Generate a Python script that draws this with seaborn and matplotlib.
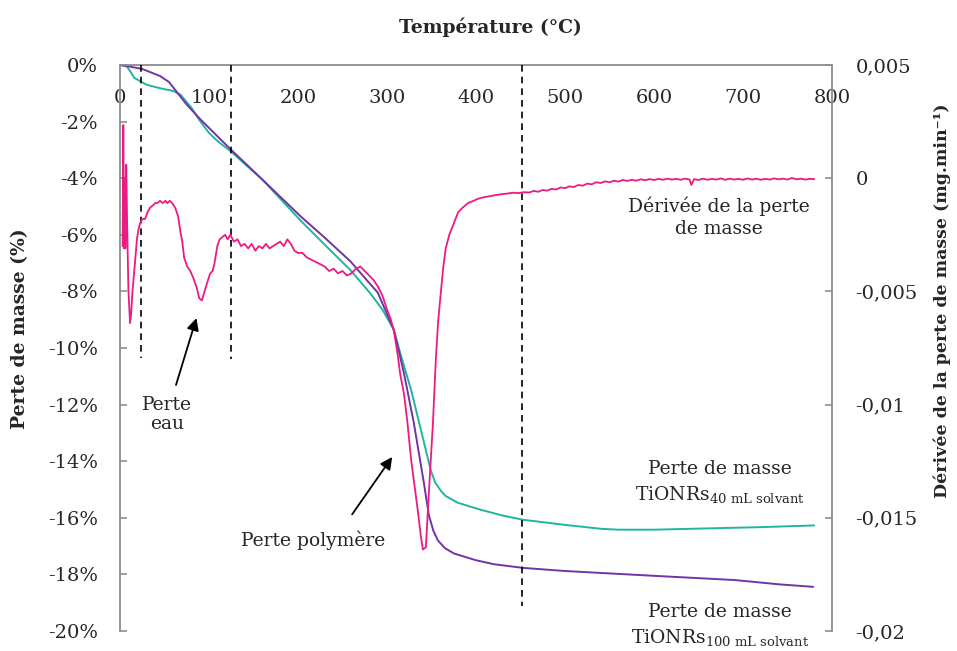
import matplotlib
matplotlib.use("Agg")
import matplotlib.pyplot as plt
import seaborn as sns
import pandas as pd

# ---------------- data ----------------
temp_40 = [0, 5, 8, 12, 16, 22.5, 30, 45, 60, 68, 80, 90, 100, 110, 124, 160, 203, 230, 259, 282,
           295, 307.6, 316, 327, 338, 349, 354, 360.6, 366, 379.7, 405.6, 430, 453, 500, 541, 560,
           600, 653, 720, 780]
loss_40 = [0, -0.03, -0.06, -0.25, -0.45, -0.57, -0.7, -0.82, -0.92, -1.05, -1.5, -1.98, -2.4, -2.7,
           -3.04, -4.05, -5.5, -6.35, -7.25, -8.1, -8.65, -9.35, -10.3, -11.47, -12.88, -14.3,
           -14.75, -15.05, -15.23, -15.47, -15.72, -15.92, -16.07, -16.25, -16.39, -16.42, -16.42,
           -16.38, -16.33, -16.27]

temp_100 = [0, 10, 25, 45, 55, 64, 75, 90, 124, 160, 203, 230, 259, 280, 289.6, 307.6, 318.9,
            330.1, 341.4, 347, 352, 357.2, 365, 375.2, 400, 420, 453, 500, 541, 600, 691, 740, 779]
loss_100 = [0, -0.05, -0.14, -0.39, -0.6, -0.96, -1.4, -1.91, -2.97, -4.05, -5.35, -6.1, -6.94,
            -7.7, -8.04, -9.35, -10.87, -12.64, -14.76, -15.9, -16.45, -16.8, -17.07, -17.26,
            -17.5, -17.64, -17.77, -17.88, -17.95, -18.05, -18.2, -18.35, -18.44]

temp_deriv = (
    [3.0, 3.7, 4.6, 5.4, 6.0, 7.0, 8.0, 9.5, 11.3, 12.5, 14, 16.9, 19, 20.6, 22.5, 25, 28.2]
    + [31, 33.8, 37, 39.4, 42, 45, 48, 51, 53, 56, 58.6, 62, 65.4, 68, 70, 72, 75.5, 79, 82.3]
    + [86, 89, 92, 95, 98, 101.4, 104, 106, 109.3, 112, 115, 118, 121, 124, 128, 132, 136, 140]
    + [144, 148, 152, 156, 160, 164, 168, 172, 176, 180, 184, 188, 192, 196, 200, 205, 210, 215]
    + [220, 225, 230, 235, 240, 245, 250, 255, 260, 265, 270, 275, 280, 285, 290, 295, 300, 304]
    + [308, 312, 315, 319, 323, 327, 331, 335, 338, 340.3, 343.7, 347, 351.5, 354.9, 357.5]
    + [360.6, 363, 366, 370, 375, 380, 385, 391, 397, 403, 409, 415, 420, 428, 435, 442, 448]
    + [453, 460, 465, 470, 475, 480, 485, 490, 495, 500, 505, 510, 515, 520, 525, 530, 535, 540]
    + [545, 550, 555, 560, 565, 570, 575, 580, 585, 590, 595, 600, 605, 610, 615, 620, 625, 630]
    + [635, 640, 642, 645, 650, 655, 660, 665, 670, 675, 680, 685, 690, 695, 700, 705, 710, 715]
    + [720, 725, 730, 735, 740, 745, 750, 755, 760, 765, 770, 775, 780]
)
deriv = (
    [-0.0030, 0.00235, -0.0031, 0.0000, -0.0031, 0.0006, -0.0020, -0.0050, -0.0064, -0.0060,
     -0.0050, -0.0037, -0.0027, -0.0023, -0.0020, -0.0018, -0.0018]
    + [-0.0015, -0.0013, -0.0012, -0.0011, -0.0011, -0.0010, -0.0011, -0.0010, -0.0011, -0.0010,
       -0.0011, -0.0013, -0.0017, -0.0024, -0.0028, -0.0035, -0.0039, -0.0041, -0.0044]
    + [-0.0048, -0.0053, -0.0054, -0.0050, -0.0046, -0.0042, -0.0041, -0.0038, -0.0030, -0.0027,
       -0.0026, -0.0025, -0.0027, -0.0025, -0.0028, -0.0027, -0.0030, -0.0029]
    + [-0.0031, -0.0029, -0.0032, -0.0030, -0.0031, -0.0029, -0.0031, -0.0030, -0.0029, -0.0028,
       -0.0030, -0.0027, -0.0029, -0.0032, -0.0033, -0.0033, -0.0035, -0.0036]
    + [-0.0037, -0.0038, -0.0039, -0.0041, -0.0040, -0.0042, -0.0041, -0.0043, -0.0042, -0.0040,
       -0.0039, -0.0041, -0.0043, -0.0045, -0.0048, -0.0052, -0.0058, -0.0062]
    + [-0.0068, -0.0078, -0.0087, -0.0095, -0.0108, -0.0124, -0.0136, -0.0148, -0.0158, -0.0164,
       -0.0163, -0.0139, -0.0109, -0.0080, -0.0063]
    + [-0.0050, -0.0040, -0.0031, -0.0025, -0.0020, -0.0015, -0.0013, -0.0011, -0.0010, -0.0009,
       -0.00084, -0.0008, -0.00076, -0.00071, -0.00068, -0.00064, -0.00066]
    + [-0.00062, -0.00063, -0.00056, -0.00060, -0.00052, -0.00055, -0.00047, -0.00050, -0.00041,
       -0.00044, -0.00036, -0.00039, -0.00030, -0.00033, -0.00024, -0.00027, -0.00018, -0.00021]
    + [-0.00014, -0.00018, -0.00011, -0.00015, -0.00008, -0.00012, -0.00007, -0.00011, -0.00005,
       -0.00009, -0.00004, -0.00008, -0.00003, -0.00007, -0.00002, -0.00006, -0.00003, -0.00007]
    + [-0.00002, -0.00006, -0.00030, -0.00004, -0.00008, -0.00002, -0.00007, -0.00003, -0.00006,
       -0.00001, -0.00007, -0.00002, -0.00006, -0.00003, -0.00007, -0.00001, -0.00006, -0.00002]
    + [-0.00007, -0.00003, -0.00006, -0.00001, -0.00005, -0.00002, -0.00006, 0.00001, -0.00005,
       -0.00002, -0.00006, -0.00003, -0.00004]
)

left_ticks = [0, -2, -4, -6, -8, -10, -12, -14, -16, -18, -20]
left_labels = ["0%", "-2%", "-4%", "-6%", "-8%", "-10%", "-12%", "-14%", "-16%", "-18%", "-20%"]
right_ticks = [0.005, 0, -0.005, -0.01, -0.015, -0.02]
right_labels = ["0,005", "0", "-0,005", "-0,01", "-0,015", "-0,02"]
x_ticks = [0, 100, 200, 300, 400, 500, 600, 700, 800]
marker_temps = [23.7, 125, 452]
marker_bottoms = [-10.35, -10.4, -19.1]

# ---------------- style ----------------
sns.set_style("white")
plt.rcParams['font.family'] = ['DejaVu Serif']
plt.rcParams['mathtext.fontset'] = 'dejavuserif'

GRAY = "#8c8c8c"
TEAL = "#1fb5a0"
PURPLE = "#7034a8"
PINK = "#ec1a82"

fig = plt.figure(figsize=(9.57, 6.51), dpi=100)
W, H = 957, 651
ax = fig.add_axes([120 / W, 1 - 631 / H, 712 / W, (631 - 65) / H])
ax2 = ax.twinx()

df40 = pd.DataFrame({"T": temp_40, "m": loss_40})
df100 = pd.DataFrame({"T": temp_100, "m": loss_100})
dfd = pd.DataFrame({"T": temp_deriv, "d": deriv})

sns.lineplot(data=df40, x="T", y="m", ax=ax, color=TEAL, lw=1.4, sort=False, estimator=None)
sns.lineplot(data=df100, x="T", y="m", ax=ax, color=PURPLE, lw=1.4, sort=False, estimator=None)
sns.lineplot(data=dfd, x="T", y="d", ax=ax2, color=PINK, lw=1.3, sort=False, estimator=None)

for t, b in zip(marker_temps, marker_bottoms):
    ax.plot([t, t], [0, b], ls=(0, (4, 3)), color="black", lw=1.2, zorder=5)

ax.set_xlim(0, 800)
ax.set_ylim(-20, 0)
ax2.set_ylim(-0.02, 0.005)

# x axis drawn at y = 0 (top)
ax.spines['bottom'].set_position(('data', 0))
ax.spines['top'].set_visible(False)
ax.spines['right'].set_visible(False)
for s in ['bottom', 'left']:
    ax.spines[s].set_color(GRAY)
    ax.spines[s].set_linewidth(1.3)
for s in ['bottom', 'top', 'left']:
    ax2.spines[s].set_visible(False)
ax2.spines['right'].set_color(GRAY)
ax2.spines['right'].set_linewidth(1.3)

ax.set_xticks(x_ticks)
ax.set_xticklabels([str(v) for v in x_ticks])
ax.set_yticks(left_ticks)
ax.set_yticklabels(left_labels)
ax2.set_yticks(right_ticks)
ax2.set_yticklabels(right_labels)

ax.tick_params(axis='x', direction='out', length=5, color=GRAY, width=1.2, pad=12.5, labelsize=14)
ax.tick_params(axis='y', direction='in', length=5, color=GRAY, width=1.2, pad=16, labelsize=14)
ax2.tick_params(axis='y', direction='in', length=5, color=GRAY, width=1.2, pad=17, labelsize=14)
ax.set_xlabel("")
ax.set_ylabel("")
ax2.set_ylabel("")

fig.text(490 / W, 1 - 27 / H, "Température (°C)", ha='center', va='center',
         fontsize=13.5, fontweight='bold')
fig.text(20 / W, 1 - 329 / H, "Perte de masse (%)", ha='center', va='center',
         rotation=90, fontsize=13.5, fontweight='bold')
fig.text(942 / W, 1 - 301 / H, "Dérivée de la perte de masse (mg.min⁻¹)", ha='center', va='center',
         rotation=90, fontsize=12.5, fontweight='bold')

# annotations
ax.text(53, -12.35, "Perte\neau", ha='center', va='center', fontsize=13.5, linespacing=1.1)
ax.annotate("", xy=(86.8, -8.85), xytext=(62, -11.4),
            arrowprops=dict(arrowstyle="-|>", color="black", lw=1.3, mutation_scale=18))
ax.text(217.5, -16.8, "Perte polymère", ha='center', va='center', fontsize=13.5)
ax.annotate("", xy=(307.6, -13.77), xytext=(259, -15.96),
            arrowprops=dict(arrowstyle="-|>", color="black", lw=1.3, mutation_scale=18))
ax.text(673, -5.38, "Dérivée de la perte\nde masse", ha='center', va='center', fontsize=13.5,
        linespacing=1.3)
ax.text(674, -14.75, "Perte de masse\nTiONRs$_{\\mathregular{40\\ mL\\ solvant}}$", ha='center',
        va='center', fontsize=13.5, linespacing=1.35)
ax.text(674, -19.8, "Perte de masse\nTiONRs$_{\\mathregular{100\\ mL\\ solvant}}$", ha='center',
        va='center', fontsize=13.5, linespacing=1.35, clip_on=False)

fig.savefig("out.png", dpi=100)
